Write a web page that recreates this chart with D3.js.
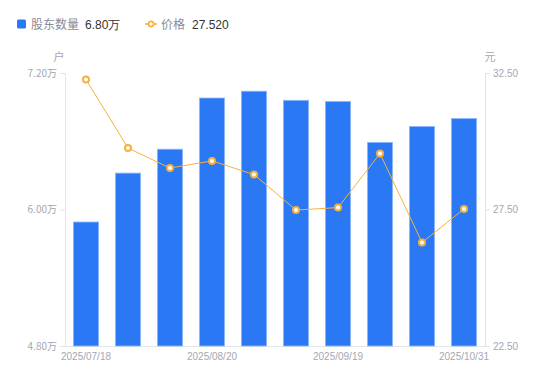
<!DOCTYPE html>
<html><head><meta charset="utf-8">
<script src="https://cdn.jsdelivr.net/npm/d3@7"></script>
<style>
html,body{margin:0;padding:0;background:#fff;}
svg text{font-family:"Noto Sans CJK SC","Noto Sans",sans-serif;}
</style></head>
<body><svg id="c" width="550" height="381"></svg>
<script>
const dates = ["2025/07/18","2025/07/31","2025/08/10","2025/08/20","2025/08/31","2025/09/10","2025/09/19","2025/09/30","2025/10/20","2025/10/31"];
const holders = [5.89, 6.32, 6.53, 6.98, 7.04, 6.96, 6.95, 6.59, 6.73, 6.80];
const prices = [32.26, 29.75, 29.02, 29.28, 28.78, 27.48, 27.57, 29.55, 26.29, 27.52];
const leftTicks = [4.8, 6.0, 7.2];
const rightTicks = [22.5, 27.5, 32.5];
const xLabelDates = ["2025/07/18","2025/08/20","2025/09/19","2025/10/31"];

const svg = d3.select("#c");
const L = 65, R = 485, T = 73, B = 346;
const blue = "#2a78f4", orange = "#f6b13d", axisC = "#e3e5ea", labC = "#a3a7b3";

const x = d3.scaleBand().domain(dates).range([L, R]).paddingInner(0.4).paddingOuter(0.2);
const yL = d3.scaleLinear().domain([4.8, 7.2]).range([B, T]);
const yR = d3.scaleLinear().domain([22.5, 32.5]).range([B, T]);

// axes
const gl = svg.append("g").attr("transform", `translate(${L},0)`)
  .call(d3.axisLeft(yL).tickValues(leftTicks).tickSize(5).tickPadding(3).tickFormat(d => d3.format(".2f")(d) + "万"));
const gr = svg.append("g").attr("transform", `translate(${R},0)`)
  .call(d3.axisRight(yR).tickValues(rightTicks).tickSize(5).tickPadding(3).tickFormat(d3.format(".2f")));
const gb = svg.append("g").attr("transform", `translate(0,${B})`)
  .call(d3.axisBottom(x).tickValues(xLabelDates).tickSize(0).tickPadding(7));
[gl, gr, gb].forEach(g => {
  g.selectAll("path").attr("stroke", axisC);
  g.selectAll("line").attr("stroke", axisC);
  g.selectAll("text").attr("fill", labC).attr("font-size", 10)
    .style("font-family", "'Liberation Sans', Arial, sans-serif");
});
gb.select("path").attr("d", `M${L - 5},0.5H${R + 5}`);
gl.selectAll("text").style("font-family", "'Noto Sans CJK SC', sans-serif").attr("font-size", 10);

// units
svg.append("text").attr("x", 59).attr("y", 61).attr("text-anchor", "middle").attr("fill", labC).attr("font-size", 11).text("户");
svg.append("text").attr("x", 490).attr("y", 61).attr("text-anchor", "middle").attr("fill", labC).attr("font-size", 11).text("元");

// bars
svg.append("g").selectAll("rect").data(holders).join("rect")
  .attr("x", (d, i) => x(dates[i]))
  .attr("y", d => yL(d))
  .attr("width", x.bandwidth())
  .attr("height", d => B - yL(d))
  .attr("fill", blue)
  .attr("stroke", "#8cb8fa").attr("stroke-width", 0.8);

// line
const line = d3.line().x((d, i) => x(dates[i]) + x.bandwidth() / 2).y(d => yR(d));
svg.append("path").datum(prices).attr("d", line).attr("fill", "none").attr("stroke", orange).attr("stroke-width", 1);
svg.append("g").selectAll("circle").data(prices).join("circle")
  .attr("cx", (d, i) => x(dates[i]) + x.bandwidth() / 2)
  .attr("cy", d => yR(d))
  .attr("r", 3).attr("fill", "#fff").attr("stroke", orange).attr("stroke-width", 2);

// legend
const lg = svg.append("g");
lg.append("rect").attr("x", 17).attr("y", 19.5).attr("width", 9).attr("height", 9).attr("rx", 1.5).attr("fill", blue);
lg.append("text").attr("x", 31).attr("y", 28.5).attr("fill", "#888c97").attr("font-size", 12).text("股东数量");
lg.append("text").attr("x", 85).attr("y", 28.5).attr("fill", "#333").attr("font-size", 12)
  .style("font-family", "'Liberation Sans', Arial, sans-serif").text(d3.format(".2f")(holders[holders.length - 1]) + "万");
lg.append("line").attr("x1", 145).attr("x2", 157).attr("y1", 24).attr("y2", 24).attr("stroke", orange).attr("stroke-width", 1.5);
lg.append("circle").attr("cx", 151).attr("cy", 24).attr("r", 2.6).attr("fill", "#fff").attr("stroke", orange).attr("stroke-width", 1.8);
lg.append("text").attr("x", 161).attr("y", 28.5).attr("fill", "#888c97").attr("font-size", 12).text("价格");
lg.append("text").attr("x", 192).attr("y", 28.5).attr("fill", "#333").attr("font-size", 12)
  .style("font-family", "'Liberation Sans', Arial, sans-serif").text(d3.format(".3f")(prices[prices.length - 1]));
</script></body></html>
